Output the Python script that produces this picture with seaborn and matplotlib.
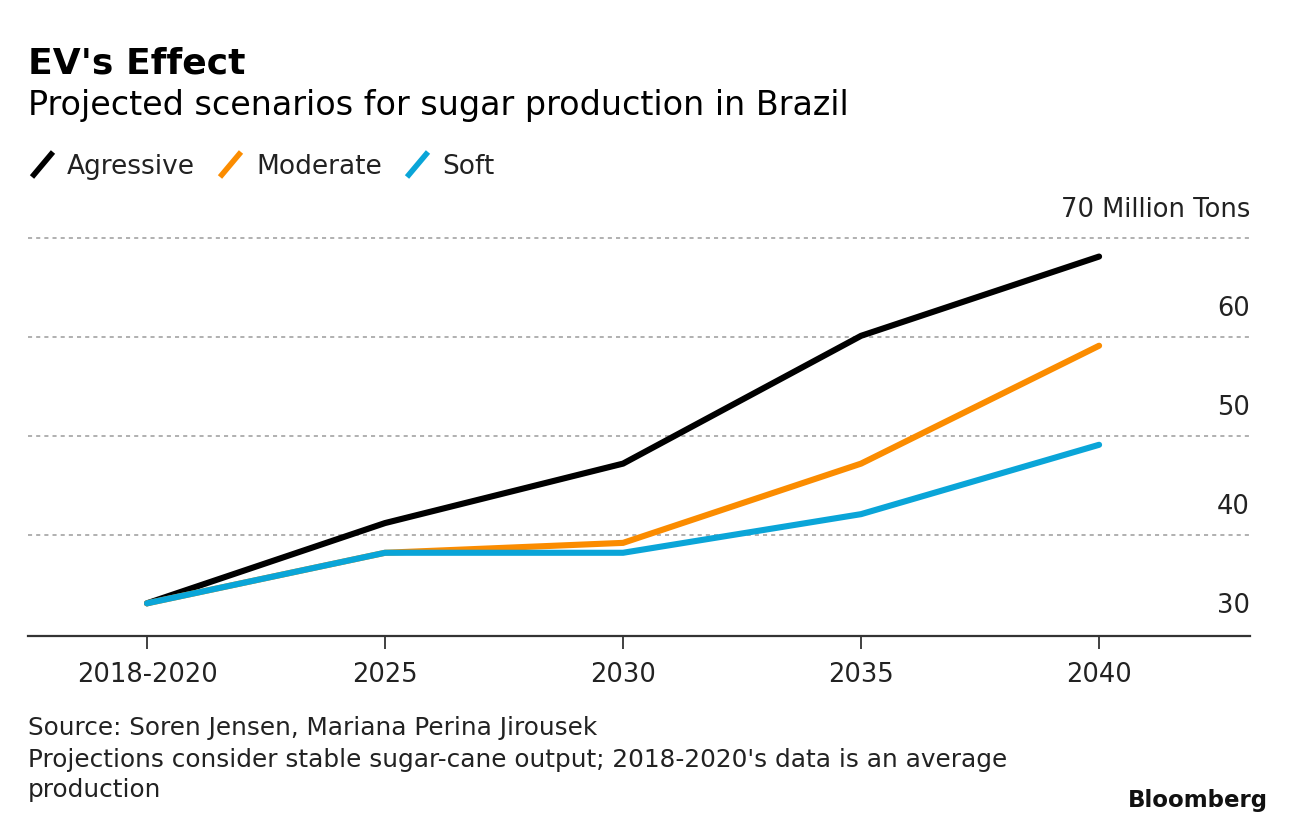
import matplotlib
matplotlib.use("Agg")
import matplotlib.pyplot as plt
import matplotlib.transforms as mtransforms
from matplotlib.lines import Line2D
from matplotlib.path import Path
import seaborn as sns
import pandas as pd

periods = ["2018-2020", "2025", "2030", "2035", "2040"]
agressive = [33.1, 41.2, 47.2, 60.1, 68.1]
moderate = [33.1, 38.2, 39.2, 47.2, 59.1]
soft = [33.1, 38.2, 38.2, 42.1, 49.1]
scenarios = ["Agressive", "Moderate", "Soft"]
colors = ["#000000", "#fb8c00", "#0aa5d8"]
ytick_vals = [30, 40, 50, 60, 70]
ytick_labels = ["30", "40", "50", "60", "70 Million Tons"]

rows = []
for name, vals in zip(scenarios, [agressive, moderate, soft]):
    for i, (p, v) in enumerate(zip(periods, vals)):
        rows.append({"x": i, "period": p, "value": v, "scenario": name})
df = pd.DataFrame(rows)

sns.set_theme(style="white")
plt.rcParams["font.family"] = ["DejaVu Sans"]

W, H = 1296, 828
fig = plt.figure(figsize=(W / 100, H / 100), dpi=100)
ax_left, ax_right = 28 / W, 1250 / W
ax_bottom = (H - 637) / H
ax_top = (H - 209) / H
ax = fig.add_axes([ax_left, ax_bottom, ax_right - ax_left, ax_top - ax_bottom])

# gridlines
for v in ytick_vals[1:]:
    ax.axhline(v, color="#b0b0b0", lw=1.4, linestyle=(0, (2.1, 2.1)), zorder=1)

sns.lineplot(data=df, x="x", y="value", hue="scenario", hue_order=scenarios,
             palette=colors, linewidth=4.4, ax=ax, legend=False, zorder=3,
             solid_capstyle="round", solid_joinstyle="miter")

ax.set_xlim(-0.5, 4.634)
ax.set_ylim(29.8, 73)
ax.set_xticks(range(len(periods)))
ax.set_xticklabels(periods, fontsize=18.5, color="#222222")
ax.set_yticks([])
ax.set_xlabel("")
ax.set_ylabel("")
for s in ["top", "left", "right"]:
    ax.spines[s].set_visible(False)
ax.spines["bottom"].set_color("#333333")
ax.spines["bottom"].set_linewidth(1.6)
ax.tick_params(axis="x", direction="out", length=9, width=1.3, color="#333333",
               pad=9, bottom=True)

# right-side value labels above gridlines
trans = mtransforms.offset_copy(ax.get_yaxis_transform(), fig=fig, y=29, units="dots")
for v, lab in zip(ytick_vals, ytick_labels):
    ax.text(1.0, v, lab, transform=trans, ha="right", va="center",
            fontsize=18.5, color="#222222")

# titles
fig.text(28 / W, 1 - 63 / H, "EV's Effect", fontsize=26, fontweight="bold",
         color="#000000", va="center", ha="left")
fig.text(28 / W, 1 - 105 / H, "Projected scenarios for sugar production in Brazil",
         fontsize=24, color="#000000", va="center", ha="left")

# legend
slash = Path([(-0.42, -0.5), (0.42, 0.5)], [Path.MOVETO, Path.LINETO])
handles = [Line2D([], [], linestyle="none", marker=slash, markersize=18,
                  markeredgewidth=4.0, markeredgecolor=c, color=c)
           for c in colors]
leg = fig.legend(handles, scenarios, loc="center left",
                 bbox_to_anchor=(29 / W, 1 - 167 / H), ncol=3, frameon=False,
                 fontsize=19, handlelength=0.95, handletextpad=0.5,
                 columnspacing=0.85, borderpad=0, borderaxespad=0)
for t in leg.get_texts():
    t.set_color("#222222")

# footer
fig.text(28 / W, 1 - 728 / H, "Source: Soren Jensen, Mariana Perina Jirousek",
         fontsize=17.8, color="#222222", va="center", ha="left")
fig.text(28 / W, 1 - 760 / H,
         "Projections consider stable sugar-cane output; 2018-2020's data is an average",
         fontsize=17.8, color="#222222", va="center", ha="left")
fig.text(28 / W, 1 - 790 / H, "production",
         fontsize=17.8, color="#222222", va="center", ha="left")
fig.text(1268 / W, 1 - 801 / H, "Bloomberg", fontsize=16.5, fontweight="bold",
         color="#111111", va="center", ha="right")

fig.savefig("out.png", dpi=100, facecolor="white")
